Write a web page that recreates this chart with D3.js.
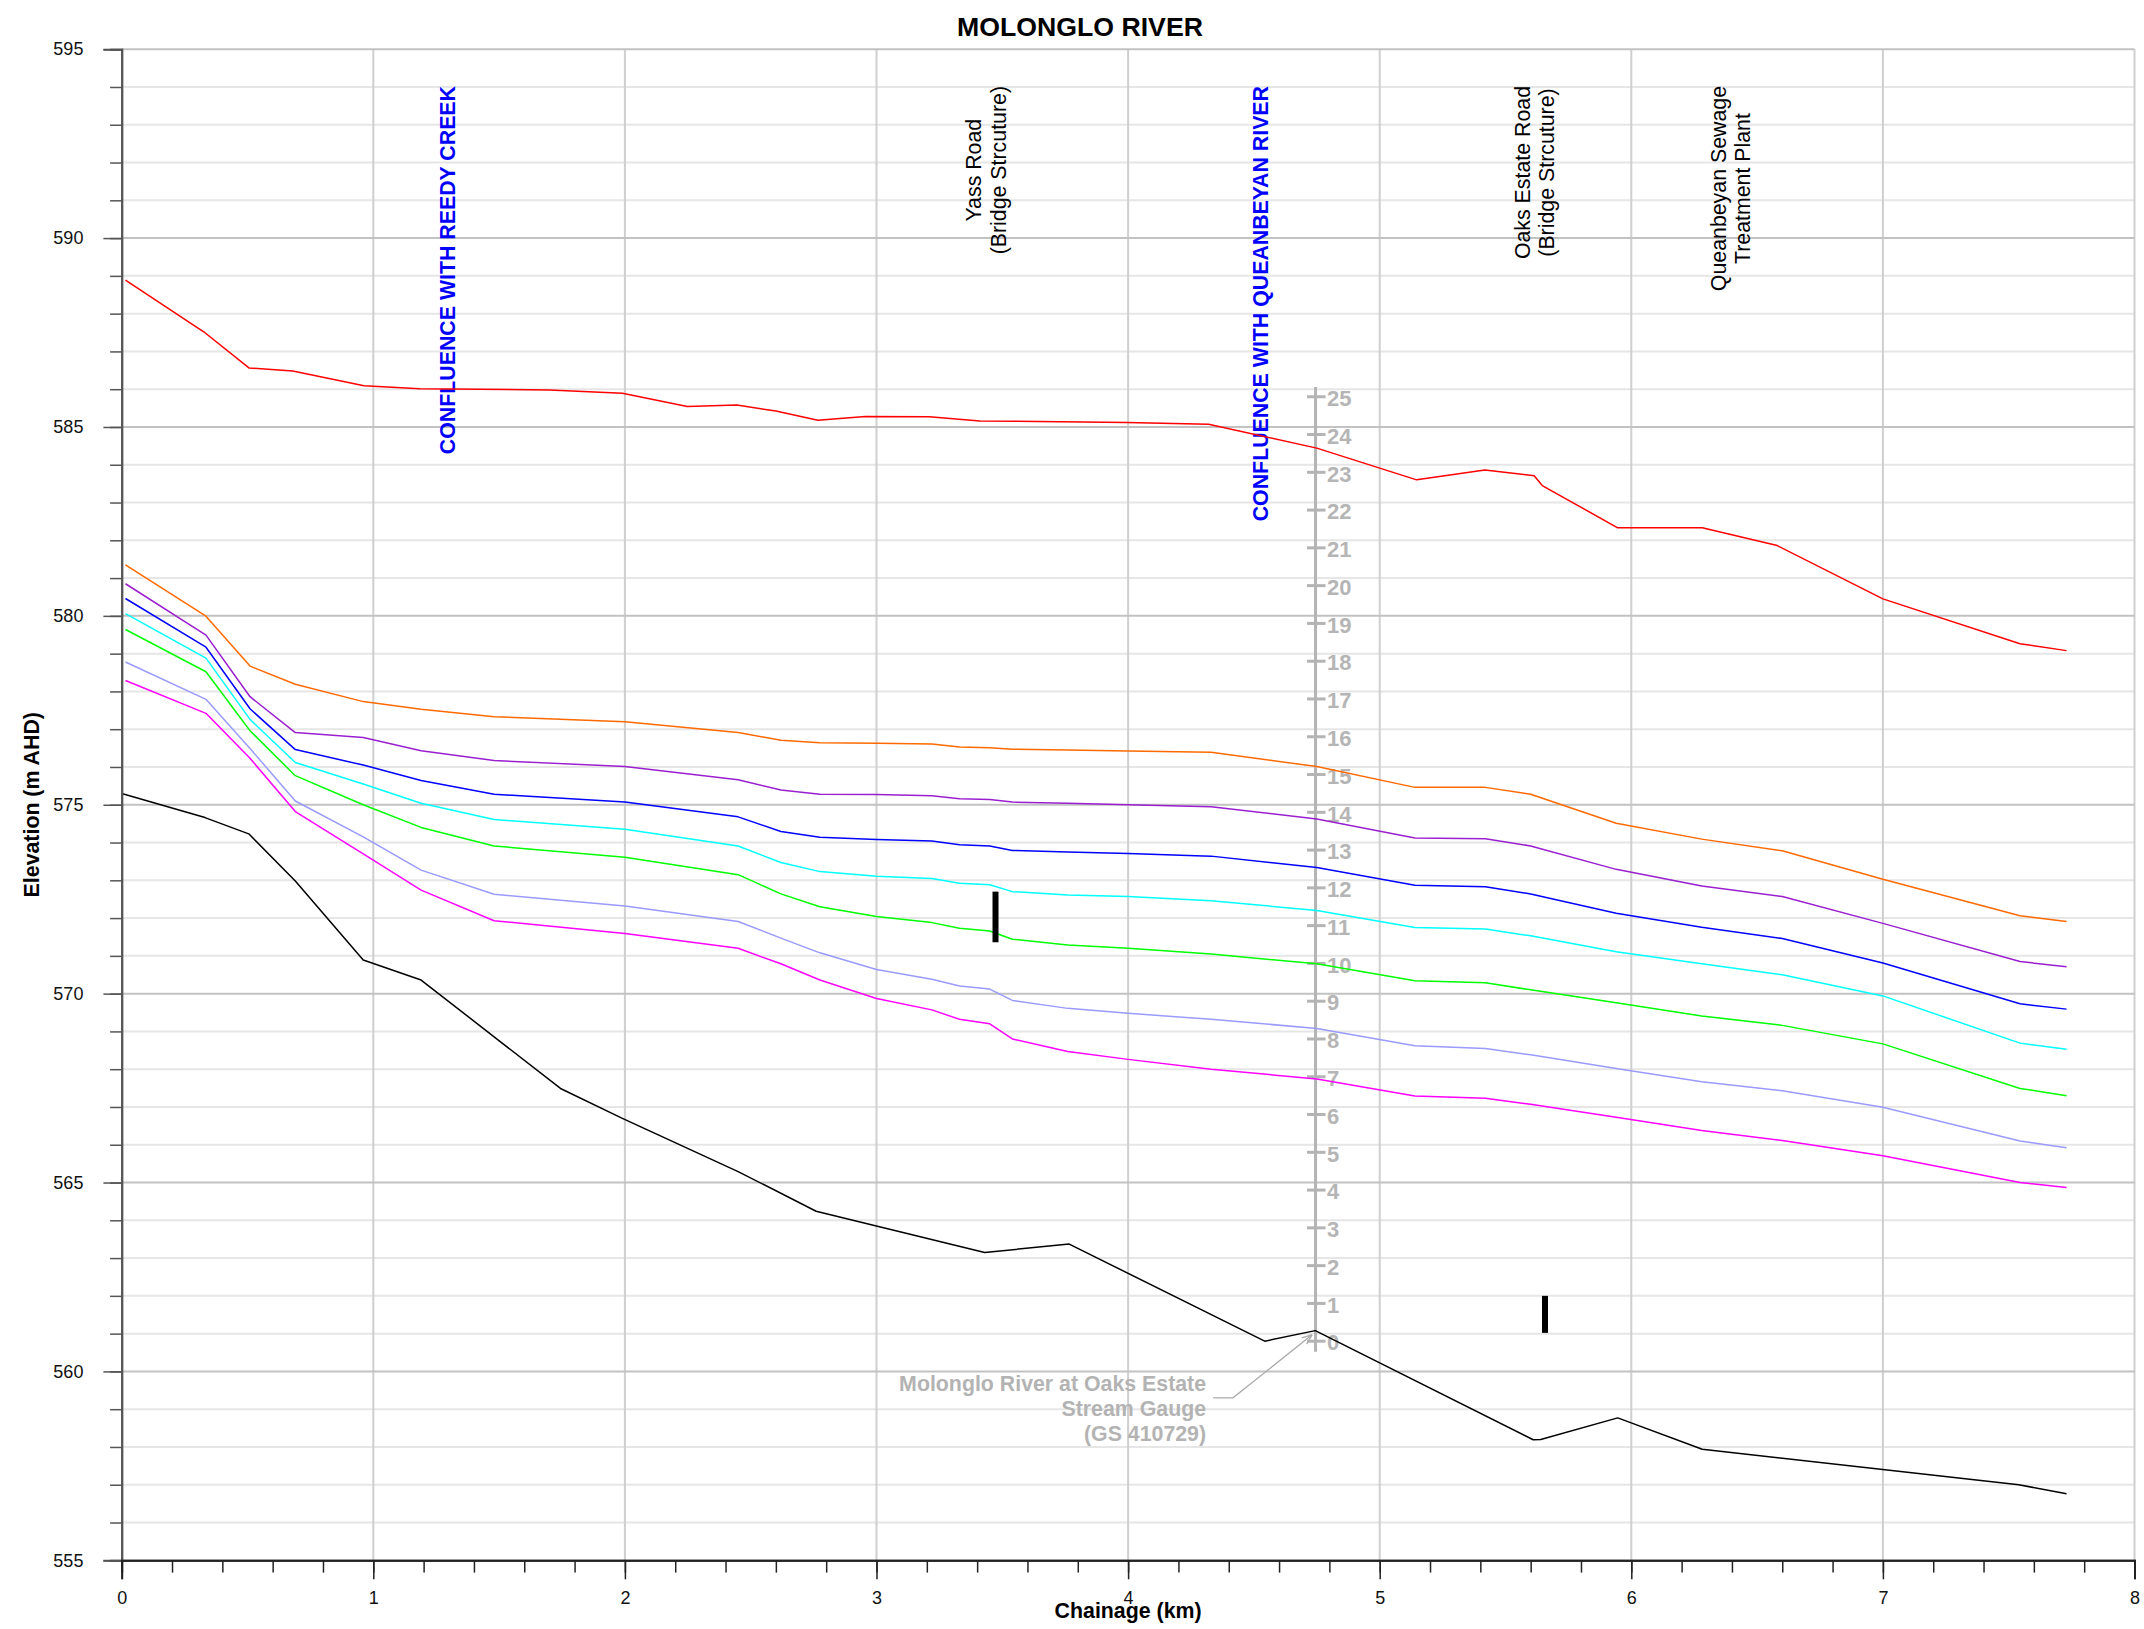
<!DOCTYPE html>
<html>
<head>
<meta charset="utf-8">
<script src="https://cdn.jsdelivr.net/npm/d3@7"></script>
<style>
  body { margin: 0; background: #fff; }
  svg { display: block; font-family: "Liberation Sans", Arial, sans-serif; }
</style>
</head>
<body>
<svg width="2144" height="1629"></svg>
<script>
// ---- data ----
var chartTitle = 'MOLONGLO RIVER';
var xTitle = 'Chainage (km)';
var yTitle = 'Elevation (m AHD)';

var xTickLabels = [0, 1, 2, 3, 4, 5, 6, 7, 8];
var yTickLabels = [555, 560, 565, 570, 575, 580, 585, 590, 595];

// top flood profile (red)
var redChainage = [0.015, 0.326, 0.507, 0.68, 0.963, 1.185, 1.70, 1.99, 2.248, 2.445, 2.60, 2.767, 2.956, 3.21, 3.411, 3.994, 4.32, 4.75, 5.147, 5.418, 5.614, 5.646, 5.946, 6.282, 6.58, 7.0, 7.545, 7.73];
var redLevels = [588.89, 587.52, 586.56, 586.48, 586.09, 586.01, 585.98, 585.89, 585.54, 585.58, 585.42, 585.18, 585.28, 585.27, 585.16, 585.12, 585.07, 584.44, 583.60, 583.86, 583.71, 583.45, 582.33, 582.33, 581.86, 580.45, 579.26, 579.08];

// common chainage of the other water surface profiles
var profileChainage = [0.015, 0.335, 0.51, 0.69, 0.96, 1.19, 1.48, 2.0, 2.45, 2.62, 2.775, 3.0, 3.22, 3.33, 3.45, 3.54, 3.76, 4.0, 4.33, 4.75, 5.14, 5.42, 5.6, 5.94, 6.28, 6.6, 7.0, 7.545, 7.73];
var orangeLevels = [581.35, 579.99, 578.67, 578.19, 577.73, 577.53, 577.33, 577.20, 576.91, 576.71, 576.64, 576.63, 576.61, 576.53, 576.51, 576.47, 576.45, 576.42, 576.39, 576.01, 575.46, 575.46, 575.28, 574.51, 574.09, 573.78, 573.03, 572.06, 571.91];
var purpleLevels = [580.85, 579.49, 577.86, 576.91, 576.78, 576.43, 576.17, 576.01, 575.66, 575.39, 575.28, 575.27, 575.24, 575.16, 575.14, 575.07, 575.04, 575.00, 574.95, 574.62, 574.12, 574.10, 573.91, 573.29, 572.85, 572.57, 571.86, 570.85, 570.71];
var blueLevels = [580.46, 579.17, 577.54, 576.46, 576.05, 575.64, 575.28, 575.07, 574.68, 574.29, 574.14, 574.08, 574.04, 573.94, 573.91, 573.79, 573.75, 573.71, 573.64, 573.34, 572.87, 572.83, 572.64, 572.13, 571.76, 571.46, 570.81, 569.73, 569.59];
var cyanLevels = [580.06, 578.88, 577.26, 576.12, 575.55, 575.04, 574.61, 574.35, 573.91, 573.47, 573.23, 573.11, 573.05, 572.92, 572.88, 572.70, 572.61, 572.57, 572.46, 572.20, 571.75, 571.71, 571.53, 571.11, 570.79, 570.50, 569.94, 568.69, 568.53];
var greenLevels = [579.64, 578.52, 576.96, 575.77, 575.00, 574.40, 573.91, 573.61, 573.15, 572.64, 572.30, 572.04, 571.88, 571.73, 571.66, 571.44, 571.29, 571.20, 571.05, 570.79, 570.34, 570.29, 570.10, 569.76, 569.41, 569.16, 568.67, 567.49, 567.30];
var lavenderLevels = [578.78, 577.79, 576.49, 575.10, 574.15, 573.27, 572.63, 572.32, 571.91, 571.47, 571.08, 570.64, 570.38, 570.20, 570.12, 569.82, 569.61, 569.48, 569.32, 569.08, 568.62, 568.55, 568.38, 568.02, 567.67, 567.43, 566.99, 566.10, 565.92];
var magentaLevels = [578.29, 577.42, 576.23, 574.82, 573.70, 572.74, 571.93, 571.59, 571.20, 570.79, 570.36, 569.87, 569.57, 569.32, 569.20, 568.80, 568.47, 568.26, 568.00, 567.74, 567.29, 567.23, 567.07, 566.73, 566.38, 566.11, 565.71, 565.00, 564.87];

// river bed (black)
var bedChainage = [0, 0.331, 0.505, 0.69, 0.96, 1.19, 1.744, 1.99, 2.45, 2.76, 3.43, 3.766, 4.543, 4.744, 5.61, 5.64, 5.946, 6.282, 7.54, 7.73];
var bedLevels = [575.30, 574.66, 574.23, 572.98, 570.89, 570.36, 567.49, 566.70, 565.29, 564.24, 563.15, 563.37, 560.80, 561.08, 558.19, 558.20, 558.77, 557.94, 557.00, 556.76];

// bridge structures
var structureChainage = [3.473, 5.657];
var structureTop = [572.70, 562.00];
var structureBottom = [571.36, 561.02];

// site labels along the river
var siteLabels = [
	['CONFLUENCE WITH REEDY CREEK'],
	['Yass Road', '(Bridge Strcuture)'],
	['CONFLUENCE WITH QUEANBEYAN RIVER'],
	['Oaks Estate Road', '(Bridge Strcuture)'],
	['Queanbeyan Sewage', 'Treatment Plant']
];
var siteChainage = [1.326, 3.466, 4.556, 5.646, 6.425];
var siteIsConfluence = [true, false, true, false, false];

// stream gauge board
var gaugeChainage = 4.745;
var gaugeZero = 560.8;
var gaugeTickLabels = [0, 1, 2, 3, 4, 5, 6, 7, 8, 9, 10, 11, 12, 13, 14, 15, 16, 17, 18, 19, 20, 21, 22, 23, 24, 25];
var gaugeNote = ['Molonglo River at Oaks Estate', 'Stream Gauge', '(GS 410729)'];
var gaugeNoteAt = [4.31, 559.47];
var gaugeArrow = [[4.338, 559.30], [4.417, 559.30], [4.731, 560.97]];

// ---- drawing ----
var svg = d3.select('svg');
var width = +svg.attr('width');
var height = +svg.attr('height');
var margin = {left: 121.7, right: 9.5, top: 49.2, bottom: 68.7};
var innerwidth = width - margin.left - margin.right;
var innerheight = height - margin.top - margin.bottom;

var xscale = d3.scaleLinear().domain([0, 8]).range([0, innerwidth]);
var yscale = d3.scaleLinear().domain([555, 595]).range([innerheight, 0]);

var g = svg.append('g').attr('transform', `translate(${margin.left},${margin.top})`);

// grid
var grid = g.append('g');
grid.selectAll('.hminor').data(d3.range(555, 596, 1).filter(d => d % 5 != 0))
	.enter().append('line')
	.attr('x1', 0).attr('x2', innerwidth)
	.attr('y1', d => yscale(d)).attr('y2', d => yscale(d))
	.attr('stroke', '#e6e6e6').attr('stroke-width', 2);
grid.selectAll('.vgrid').data(xTickLabels.filter(d => d > 0))
	.enter().append('line')
	.attr('x1', d => xscale(d)).attr('x2', d => xscale(d))
	.attr('y1', 0).attr('y2', innerheight)
	.attr('stroke', '#cfcfcf').attr('stroke-width', 2);
grid.selectAll('.hmajor').data(yTickLabels.filter(d => d > 555))
	.enter().append('line')
	.attr('x1', 0).attr('x2', innerwidth)
	.attr('y1', d => yscale(d)).attr('y2', d => yscale(d))
	.attr('stroke', '#c2c2c2').attr('stroke-width', 2);

// site labels (rotated)
var sites = g.append('g');
siteLabels.forEach(function(lines, i){
	var col = siteIsConfluence[i] ? '#0000ff' : '#000';
	var texts = lines.map(function(t, j){
		return sites.append('text')
			.text(t)
			.attr('fill', col)
			.attr('font-size', '21.33px')
			.attr('font-weight', siteIsConfluence[i] ? 'bold' : 'normal')
			.attr('text-anchor', 'middle');
	});
	var maxlen = d3.max(texts, t => t.node().getComputedTextLength());
	var cy = 86 - margin.top + maxlen / 2;
	texts.forEach(function(t, j){
		var bx = xscale(siteChainage[i]) + (j - (lines.length - 1) / 2) * 24.5;
		t.attr('transform', `translate(${bx},${cy}) rotate(-90)`);
	});
});

// gauge board
var gauge = g.append('g');
var gx = xscale(gaugeChainage);
gauge.append('line')
	.attr('x1', gx).attr('x2', gx)
	.attr('y1', yscale(gaugeZero + 25.26)).attr('y2', yscale(gaugeZero - 0.28))
	.attr('stroke', '#b4b4b4').attr('stroke-width', 3);
gauge.selectAll('.gt').data(gaugeTickLabels).enter().append('line')
	.attr('x1', gx - 8.5).attr('x2', gx + 10)
	.attr('y1', d => yscale(gaugeZero + d)).attr('y2', d => yscale(gaugeZero + d))
	.attr('stroke', '#b4b4b4').attr('stroke-width', 3);
gauge.selectAll('.gl').data(gaugeTickLabels).enter().append('text')
	.attr('x', gx + 11.5)
	.attr('y', d => yscale(gaugeZero + d))
	.attr('dy', '0.42em')
	.attr('fill', '#b5b5b5')
	.attr('font-size', '22px')
	.attr('font-weight', 'bold')
	.text(d => d);

// profiles
var line = d3.line().x(d => xscale(d[0])).y(d => yscale(d[1]));
var profiles = [
	[redChainage, redLevels, '#ff0000'],
	[profileChainage, orangeLevels, '#ff6a00'],
	[profileChainage, purpleLevels, '#9a1fcf'],
	[profileChainage, blueLevels, '#0000ff'],
	[profileChainage, cyanLevels, '#00ffff'],
	[profileChainage, greenLevels, '#00ff00'],
	[profileChainage, lavenderLevels, '#9a9aff'],
	[profileChainage, magentaLevels, '#ff00ff'],
	[bedChainage, bedLevels, '#000000']
];
var lines = g.append('g');
profiles.forEach(function(p){
	lines.append('path')
		.datum(p[0].map((c, i) => [c, p[1][i]]))
		.attr('d', line)
		.attr('fill', 'none')
		.attr('stroke', p[2])
		.attr('stroke-width', 1.5)
		.attr('stroke-linejoin', 'round');
});

// bridge structures
g.append('g').selectAll('line').data(structureChainage).enter().append('line')
	.attr('x1', d => xscale(d)).attr('x2', d => xscale(d))
	.attr('y1', (d, i) => yscale(structureTop[i]))
	.attr('y2', (d, i) => yscale(structureBottom[i]))
	.attr('stroke', '#000').attr('stroke-width', 6);

// gauge callout
svg.append('defs').append('marker')
	.attr('id', 'arr').attr('viewBox', '0 0 10 10')
	.attr('refX', 10).attr('refY', 5)
	.attr('markerWidth', 10).attr('markerHeight', 10)
	.attr('markerUnits', 'userSpaceOnUse')
	.attr('orient', 'auto')
	.append('path').attr('d', 'M0,1 L10,5 L0,9').attr('fill', 'none')
	.attr('stroke', '#aaaaaa').attr('stroke-width', 1.3);
g.append('path')
	.datum(gaugeArrow)
	.attr('d', line)
	.attr('fill', 'none')
	.attr('stroke', '#aaaaaa')
	.attr('stroke-width', 1.3)
	.attr('marker-end', 'url(#arr)');
g.append('g').selectAll('text').data(gaugeNote).enter().append('text')
	.attr('x', xscale(gaugeNoteAt[0]))
	.attr('y', (d, i) => yscale(gaugeNoteAt[1]) + i * 25)
	.attr('text-anchor', 'end')
	.attr('fill', '#b3b3b3')
	.attr('font-size', '21.33px')
	.attr('font-weight', 'bold')
	.text(d => d);

// axes
var axiscontainer = g.append('g');
var yminor = d3.axisLeft(yscale).tickValues(d3.range(555, 596, 1)).tickSize(11.6).tickFormat('');
axiscontainer.append('g').call(yminor);
var ymajor = d3.axisLeft(yscale).tickValues(yTickLabels).tickSize(18.3).tickPadding(20).tickFormat(d3.format('d'));
var yaxiscont = axiscontainer.append('g').call(ymajor);
axiscontainer.selectAll('.domain').attr('stroke', '#555').attr('stroke-width', 2);
axiscontainer.selectAll('.tick line').attr('stroke', '#555').attr('stroke-width', 1.5);
yaxiscont.selectAll('text').attr('font-size', '18px').attr('fill', '#111');

var xaxis = axiscontainer.append('g').attr('transform', `translate(0,${innerheight})`);
xaxis.append('g').call(d3.axisBottom(xscale).tickValues(d3.range(0, 8.01, 0.2)).tickSize(12.3).tickFormat(''));
var xmajor = xaxis.append('g').call(d3.axisBottom(xscale).tickValues(xTickLabels).tickSize(19).tickPadding(12).tickFormat(d3.format('d')));
xaxis.selectAll('.domain').attr('stroke', '#222').attr('stroke-width', 2);
xaxis.selectAll('.tick line').attr('stroke', '#222').attr('stroke-width', 1.5);
xmajor.selectAll('text').attr('font-size', '18px').attr('fill', '#111');
svg.selectAll('g[font-family]').attr('font-family', null);

// titles
svg.append('text')
	.attr('x', 1080).attr('y', 36)
	.attr('text-anchor', 'middle')
	.attr('font-size', '26.67px').attr('font-weight', 'bold')
	.text(chartTitle);
svg.append('text')
	.attr('x', margin.left + innerwidth / 2).attr('y', 1618)
	.attr('text-anchor', 'middle')
	.attr('font-size', '21.33px').attr('font-weight', 'bold')
	.text(xTitle);
svg.append('text')
	.attr('transform', `translate(38.5,${margin.top + innerheight / 2}) rotate(-90)`)
	.attr('text-anchor', 'middle')
	.attr('font-size', '21.33px').attr('font-weight', 'bold')
	.text(yTitle);
</script>
</body>
</html>
